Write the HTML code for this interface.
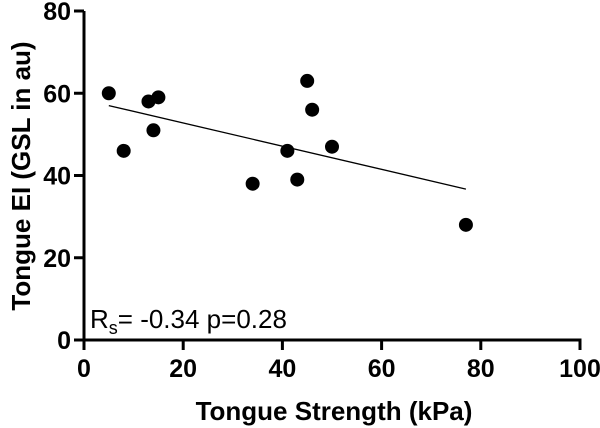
<!DOCTYPE html>
<html><head><meta charset="utf-8"><style>
html,body{margin:0;padding:0;background:#fff;}
svg{display:block;font-family:"Liberation Sans",Arial,sans-serif;}
</style></head><body>
<svg id="chart" width="600" height="428" viewBox="0 0 600 428">
<g id="axes"></g>
<g id="marks"></g>
<text x="90" y="328" font-size="26" fill="#000">R<tspan font-size="18" dy="6">s</tspan><tspan dy="-6">= -0.34 p=0.28</tspan></text>
<text x="334" y="420" text-anchor="middle" font-size="26" font-weight="bold">Tongue Strength (kPa)</text>
<text transform="translate(30,176) rotate(-90)" text-anchor="middle" font-size="26" font-weight="bold">Tongue EI (GSL in au)</text>
</svg>
<script>
const xValues=[5,8,13,15,14,34,41,45,46,43,50,77];
const yValues=[60,46,58,59,51,38,46,63,56,39,47,28];
const xTicks=[0,20,40,60,80,100];
const yTicks=[0,20,40,60,80];
const fitX=[5,77];
const fitY=[57,36.7];
const NS="http://www.w3.org/2000/svg";
const X0=84,X1=580,Y0=340,Y1=11;
function sx(v){return X0+(v-0)/(100-0)*(X1-X0);}
function sy(v){return Y0-(v-0)/(80-0)*(Y0-Y1);}
function mk(tag,attrs,parent){const e=document.createElementNS(NS,tag);for(const k in attrs)e.setAttribute(k,attrs[k]);parent.appendChild(e);return e;}
const axes=document.getElementById('axes'),marks=document.getElementById('marks');
let a=mk('line',{x1:X0,y1:Y1,x2:X0,y2:Y0+1.5,stroke:'#000','stroke-width':3},axes);


a=mk('line',{x1:X0-1.5,y1:Y0,x2:X1+1.5,y2:Y0,stroke:'#000','stroke-width':3},axes);


xTicks.forEach(t=>{
  const l=mk('line',{x1:sx(t),y1:Y0,x2:sx(t),y2:Y0+10,stroke:'#000','stroke-width':3},axes);
  
  
  const tx=mk('text',{x:sx(t),y:Y0+37,'text-anchor':'middle','font-size':25,'font-weight':'bold'},axes);
  tx.textContent=t;
  
  
});
yTicks.forEach(t=>{
  const l=mk('line',{x1:X0-10,y1:sy(t),x2:X0,y2:sy(t),stroke:'#000','stroke-width':3},axes);
  
  
  const tx=mk('text',{x:X0-13,y:sy(t)+9,'text-anchor':'end','font-size':25,'font-weight':'bold'},axes);
  tx.textContent=t;
  
  
});
const fl=mk('line',{x1:sx(fitX[0]),y1:sy(fitY[0]),x2:sx(fitX[1]),y2:sy(fitY[1]),stroke:'#000','stroke-width':1.3},marks);


xValues.forEach((v,i)=>{
  const c=mk('circle',{cx:sx(v),cy:sy(yValues[i]),r:7,fill:'#000'},marks);
  
  
});
</script>
</body></html>
